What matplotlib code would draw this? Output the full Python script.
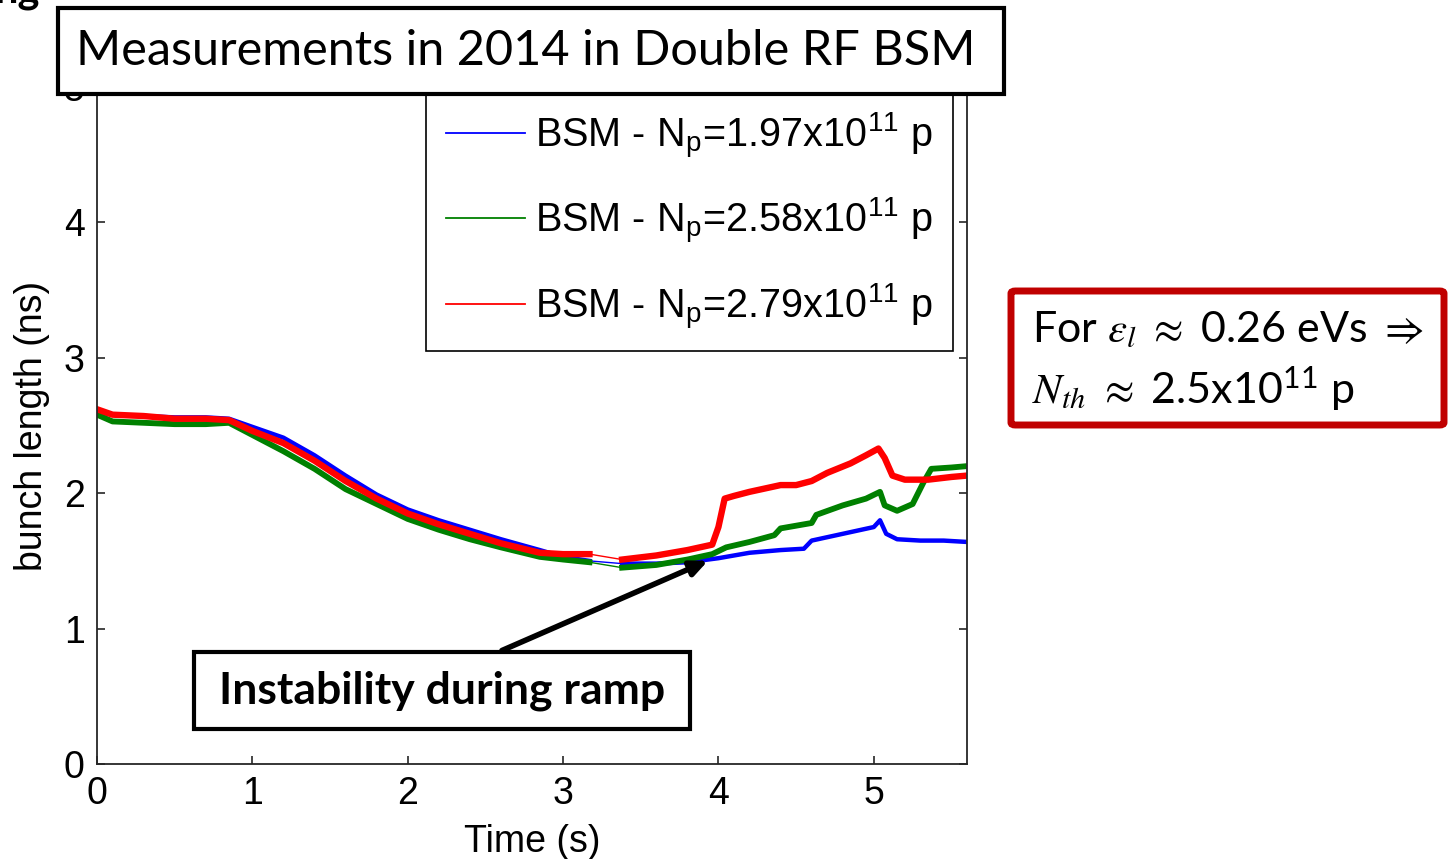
import matplotlib
matplotlib.use('Agg')
import matplotlib.pyplot as plt
from matplotlib.patches import Rectangle, FancyBboxPatch

# data: time (s), bunch length (ns)
t_blue = [0.0, 0.1, 0.3, 0.5, 0.7, 0.85, 1.0, 1.2, 1.4, 1.6, 1.8, 2.0, 2.2, 2.4, 2.6, 2.85,
          3.0, 3.17, 3.38, 3.6, 3.8, 4.0, 4.2, 4.4, 4.55, 4.6, 4.8, 5.0, 5.04, 5.08, 5.15,
          5.3, 5.45, 5.6]
bl_blue = [2.60, 2.58, 2.57, 2.56, 2.56, 2.55, 2.49, 2.41, 2.28, 2.13, 1.99, 1.88, 1.80, 1.73,
           1.66, 1.58, 1.53, 1.50, 1.48, 1.48, 1.49, 1.52, 1.56, 1.58, 1.59, 1.65, 1.70, 1.75,
           1.80, 1.70, 1.66, 1.65, 1.65, 1.64]

t_green = [0.0, 0.1, 0.3, 0.5, 0.7, 0.85, 1.0, 1.2, 1.4, 1.6, 1.8, 2.0, 2.2, 2.4, 2.6, 2.85,
           3.0, 3.17, 3.38, 3.6, 3.8, 3.96, 4.05, 4.2, 4.36, 4.4, 4.6, 4.63, 4.8, 4.95, 5.04,
           5.07, 5.15, 5.25, 5.32, 5.37, 5.5, 5.6]
bl_green = [2.58, 2.53, 2.52, 2.51, 2.51, 2.52, 2.43, 2.31, 2.18, 2.03, 1.92, 1.81, 1.73, 1.66,
            1.60, 1.53, 1.51, 1.49, 1.45, 1.47, 1.51, 1.55, 1.60, 1.64, 1.69, 1.74, 1.78, 1.84,
            1.91, 1.96, 2.01, 1.91, 1.87, 1.92, 2.08, 2.18, 2.19, 2.20]

t_red = [0.0, 0.1, 0.3, 0.5, 0.7, 0.85, 1.0, 1.2, 1.4, 1.6, 1.8, 2.0, 2.2, 2.4, 2.6, 2.85,
         3.0, 3.17, 3.38, 3.6, 3.8, 3.96, 4.0, 4.04, 4.1, 4.2, 4.4, 4.5, 4.6, 4.7, 4.85, 4.95,
         5.03, 5.07, 5.12, 5.2, 5.35, 5.5, 5.6]
bl_red = [2.62, 2.58, 2.57, 2.55, 2.55, 2.54, 2.46, 2.37, 2.24, 2.09, 1.96, 1.85, 1.77, 1.70,
          1.63, 1.56, 1.55, 1.55, 1.51, 1.54, 1.58, 1.62, 1.75, 1.96, 1.98, 2.01, 2.06, 2.06,
          2.09, 2.15, 2.22, 2.28, 2.33, 2.26, 2.13, 2.10, 2.10, 2.12, 2.13]

labels = [r'BSM - N$_\mathregular{p}$=1.97x10$^\mathregular{11}$ p',
          r'BSM - N$_\mathregular{p}$=2.58x10$^\mathregular{11}$ p',
          r'BSM - N$_\mathregular{p}$=2.79x10$^\mathregular{11}$ p']

# no data recorded between these times: traces only joined by a thin line
gap = (3.17, 3.38)

plt.rcParams['mathtext.fontset'] = 'stix'

fig = plt.figure(figsize=(14.5, 8.59), dpi=100)
ax = fig.add_axes([0.0669, 0.1106, 0.6, 0.7881])

series = [(t_blue, bl_blue, 'b', 3.2), (t_green, bl_green, (0, 0.5, 0), 4.2),
          (t_red, bl_red, 'r', 4.6)]
for (t, v, c, lw), lab in zip(series, labels):
    ax.plot(t, v, color=c, lw=1.0)
    before = [(a, b) for a, b in zip(t, v) if a <= gap[0]]
    after = [(a, b) for a, b in zip(t, v) if a >= gap[1]]
    ax.plot([p[0] for p in before], [p[1] for p in before], color=c, lw=lw)
    ax.plot([p[0] for p in after], [p[1] for p in after], color=c, lw=lw)
    # legend handle
    ax.plot([], [], color=c, lw=1.3, label=lab)

ax.set_xlim(0, 5.6)
ax.set_ylim(0, 5)
ax.set_xticks([0, 1, 2, 3, 4, 5])
ax.set_yticks([0, 1, 2, 3, 4, 5])

tick_font = 'Liberation Sans'
ax.tick_params(direction='in', top=True, right=True, length=6, width=1.2,
               colors='#262626', labelcolor='black', labelsize=27)
ax.tick_params(axis='x', pad=9)
ax.tick_params(axis='y', pad=9)
for lab in ax.get_xticklabels() + ax.get_yticklabels():
    lab.set_family(tick_font)
for sp in ax.spines.values():
    sp.set_color('#262626')
    sp.set_linewidth(1.3)

ax.set_xlabel('Time (s)', family=tick_font, fontsize=27, labelpad=8)
ax.set_ylabel('bunch length (ns)', family=tick_font, fontsize=27, labelpad=10)

handles, labs = ax.get_legend_handles_labels()
leg = ax.legend(handles, labs, loc='upper right', bbox_to_anchor=(0.984, 0.995),
                prop={'family': tick_font, 'size': 28.5}, fancybox=False,
                edgecolor='black', framealpha=1, handlelength=2.0, handletextpad=0.25,
                labelspacing=0.9, borderaxespad=0, borderpad=0.5)
leg.get_frame().set_linewidth(1.2)

# arrow pointing at the instability onset
ax.annotate('', xy=(3.95, 1.51), xytext=(2.59, 0.83),
            arrowprops=dict(arrowstyle='-|>,head_length=1.0,head_width=0.45',
                            color='black', lw=4))

# box with instability note
box_font = ['Lato', 'DejaVu Sans']
fig.patches.append(Rectangle((194 / 1450, 1 - 729 / 859), 496 / 1450, 77 / 859,
                             transform=fig.transFigure, facecolor='white',
                             edgecolor='black', lw=3, zorder=5))
fig.text(442 / 1450, 1 - 691 / 859, 'Instability during ramp', family=box_font,
         fontweight='bold', fontsize=32, ha='center', va='center', zorder=6)

# title box
fig.patches.append(Rectangle((58 / 1450, 1 - 94 / 859), 946 / 1450, 86 / 859,
                             transform=fig.transFigure, facecolor='white',
                             edgecolor='black', lw=3, zorder=5))
fig.text(526 / 1450, 1 - 51 / 859, 'Measurements in 2014 in Double RF BSM',
         family=box_font, fontsize=35, ha='center', va='center', zorder=6)

# leftover of a heading above the chart
fig.text(-0.004, 0.997, 'ng', family=box_font, fontweight='bold', fontsize=30,
         ha='left', va='baseline')

# red box with threshold note
fig.patches.append(FancyBboxPatch((1011 / 1450, 1 - 425 / 859), 433 / 1450, 134 / 859,
                                  boxstyle='round,pad=0,rounding_size=0.003',
                                  transform=fig.transFigure, facecolor='white',
                                  edgecolor='#C00000', lw=5, zorder=5))
fig.text(1032 / 1450, 1 - 330 / 859, r'For $\varepsilon_l$ $\approx$ 0.26 eVs $\Rightarrow$',
         family=box_font, fontsize=31, ha='left', va='center', zorder=6)
fig.text(1032 / 1450, 1 - 389 / 859, r'$N_{th}$ $\approx$ 2.5x10$^{\mathregular{11}}$ p',
         family=box_font, fontsize=31, ha='left', va='center', zorder=6)

plt.savefig('out.png', dpi=100)
